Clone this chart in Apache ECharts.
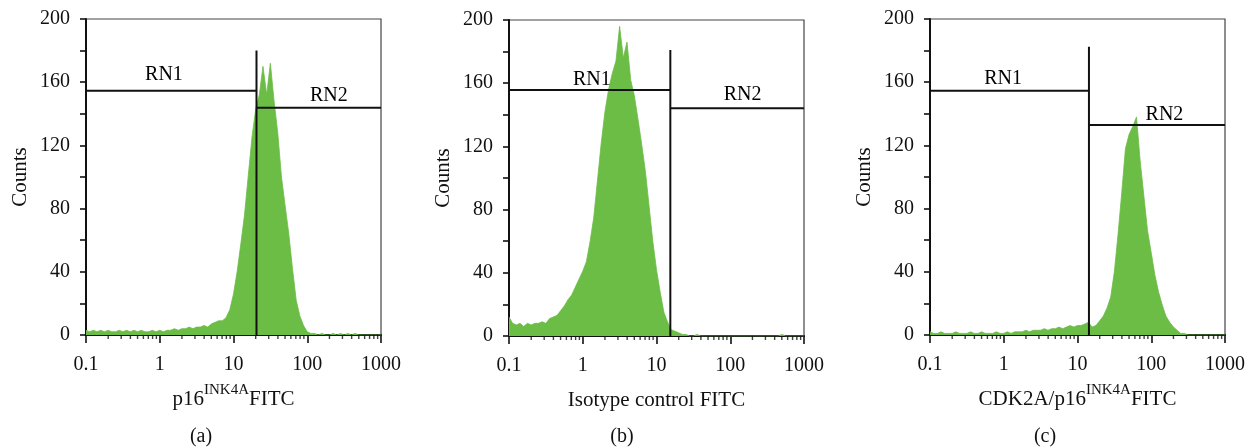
<!DOCTYPE html>
<html><head><meta charset="utf-8">
<script src="https://cdn.jsdelivr.net/npm/echarts@6/dist/echarts.min.js"></script>
<style>html,body{margin:0;padding:0;background:#fff}#c{width:1256px;height:448px}</style>
</head><body><div id="c"></div>
<script>
// Histogram bin centres (log-spaced, FITC intensity)
const bins = [0.1,0.112,0.126,0.141,0.158,0.178,0.2,0.224,0.251,0.282,0.316,0.355,0.398,0.447,0.501,0.562,0.631,0.708,0.794,0.891,
  1,1.12,1.26,1.41,1.58,1.78,2,2.24,2.51,2.82,3.16,3.55,3.98,4.47,5.01,5.62,6.31,7.08,7.94,8.91,
  10,11.2,12.6,14.1,15.8,17.8,20,22.4,25.1,28.2,31.6,35.5,39.8,44.7,50.1,56.2,63.1,70.8,79.4,89.1,
  100,112,126,141,158,178,200,224,251,282,316,355,398,447,501,562,631,708,794,891,1000];
// (a) p16INK4A FITC
const countsA = [3,2,3,2,3,2,3,2,2,3,2,3,2,3,2,3,2,2,3,2,
  3,2,3,3,4,3,4,4,5,4,5,5,6,5,7,8,9,9,11,16,
  26,40,58,76,100,125,143,152,170,152,172,148,128,100,82,64,42,22,12,6,
  2,1,1,0,1,0,0,1,0,1,0,1,0,1,0,0,0,0,0,0,0];
// (b) Isotype control FITC
const countsB = [12,8,7,8,6,8,7,8,8,9,8,11,12,13,16,19,23,26,31,36,
  41,47,60,75,98,122,142,156,166,174,196,176,186,162,152,137,121,104,82,60,
  42,28,15,9,4,3,2,1,1,0,0,1,0,0,0,0,0,0,0,0,
  0,0,0,0,0,0,0,0,0,0,0,0,0,0,1,0,0,0,0,0,0];
// (c) CDK2A/p16INK4A FITC
const countsC = [2,1,1,2,1,1,1,2,1,1,1,2,1,1,2,1,1,1,2,1,
  1,2,1,2,2,2,3,2,3,3,3,4,3,4,4,5,4,5,6,5,
  6,6,7,8,5,6,9,12,17,24,40,64,90,118,127,132,138,110,88,66,
  52,38,27,19,12,8,5,3,1,1,0,0,0,0,0,0,0,0,0,0,0];
const panelCounts = [countsA, countsB, countsC];

const minorTicks = [0.2,0.3,0.4,0.5,0.6,0.7,0.8,0.9,2,3,4,5,6,7,8,9,20,30,40,50,60,70,80,90,200,300,400,500,600,700,800,900];
const gateX = [20.5, 15.4, 14.3];
const gateTop = [180, 181, 182.5];
const rn1Level = [154.6, 155.7, 154.6];
const rn2Level = [143.8, 144.1, 132.9];
const rn1LabelPos = [[1.14, 164.4], [1.33, 162.5], [0.98, 162.5]];
const rn2LabelPos = [[196, 151.4], [147, 152.4], [151, 139.2]];
const xNames = ['{n|p16}{s|INK4A}{n|FITC}', '{n|Isotype control FITC}', '{n|CDK2A/p16}{s|INK4A}{n|FITC}'];
const panelTags = ['(a)', '(b)', '(c)'];

const FONT = 'Liberation Serif';
const INK = '#111';
const GREEN = '#6bbd46';
const grids = [
  {left: 86, top: 19, width: 295, height: 316},
  {left: 509, top: 20, width: 295, height: 316},
  {left: 930, top: 19, width: 295, height: 316}
];
const tagPos = [[201, 437], [622, 437], [1045, 437]];

const chart = echarts.init(document.getElementById('c'), null, {renderer: 'canvas'});
const option = {
  animation: false,
  backgroundColor: '#fff',
  grid: grids.map(g => Object.assign({show: true, borderColor: '#444', borderWidth: 1.2, backgroundColor: 'transparent'}, g)),
  xAxis: grids.map((g, k) => ({
    gridIndex: k, type: 'log', logBase: 10, min: 0.1, max: 1000,
    axisLine: {show: true, onZero: false, lineStyle: {color: '#111', width: 2}},
    axisTick: {show: true, length: 8, lineStyle: {color: '#111', width: 1.6}},
    splitLine: {show: false},
    axisLabel: {margin: 20, fontFamily: FONT, fontSize: 20, color: INK,
      formatter: v => String(+Number(v).toPrecision(3))},
    name: xNames[k], nameLocation: 'middle', nameGap: 48,
    nameTextStyle: {
      color: INK, fontFamily: FONT,
      rich: {
        n: {fontFamily: FONT, fontSize: 21, color: INK, lineHeight: 27, verticalAlign: 'bottom'},
        s: {fontFamily: FONT, fontSize: 15, color: INK, lineHeight: 27, verticalAlign: 'top'}
      }
    }
  })),
  yAxis: grids.map((g, k) => ({
    gridIndex: k, type: 'value', min: 0, max: 200, interval: 20,
    axisLine: {show: true, lineStyle: {color: '#111', width: 2}},
    axisTick: {show: true, length: 6, lineStyle: {color: '#111', width: 1.6}},
    splitLine: {show: false},
    axisLabel: {margin: 16, fontFamily: FONT, fontSize: 20, color: INK,
      formatter: v => (v % 40 === 0 ? String(v) : '')},
    name: 'Counts', nameLocation: 'middle', nameGap: 55,
    nameTextStyle: {fontFamily: FONT, fontSize: 21, color: INK}
  })),
  graphic: panelTags.map((t, k) => ({
    type: 'text', x: tagPos[k][0], y: tagPos[k][1],
    style: {text: t, fontFamily: FONT, fontSize: 20, fill: INK, textAlign: 'center', textVerticalAlign: 'middle'}
  })),
  series: []
};

panelCounts.forEach((counts, k) => {
  option.series.push({
    type: 'line', xAxisIndex: k, yAxisIndex: k, z: 2, silent: true,
    data: bins.map((x, i) => [x, counts[i]]),
    symbol: 'none', lineStyle: {color: GREEN, width: 0.8},
    areaStyle: {color: GREEN, opacity: 1}
  });
  const seg = (d) => ({
    type: 'line', xAxisIndex: k, yAxisIndex: k, z: 5, silent: true, symbol: 'none',
    lineStyle: {color: '#111', width: 2}, data: d
  });
  option.series.push(seg([[0.1, rn1Level[k]], [gateX[k], rn1Level[k]]]));
  option.series.push(seg([[gateX[k], 0], [gateX[k], gateTop[k]]]));
  option.series.push(seg([[gateX[k], rn2Level[k]], [1000, rn2Level[k]]]));
  option.series.push({
    type: 'scatter', xAxisIndex: k, yAxisIndex: k, z: 6, silent: true,
    symbol: 'circle', symbolSize: 0, itemStyle: {color: '#000', opacity: 1},
    label: {show: true, position: 'inside', fontFamily: FONT, fontSize: 20, color: '#000',
      opacity: 1, textBorderWidth: 0, formatter: p => p.data.name},
    data: [{name: 'RN1', value: rn1LabelPos[k]}, {name: 'RN2', value: rn2LabelPos[k]}]
  });
  option.series.push({
    type: 'scatter', xAxisIndex: k, yAxisIndex: k, z: 6, silent: true, clip: false,
    symbol: 'rect', symbolSize: [1.4, 4], symbolOffset: [0, 2],
    itemStyle: {color: '#111'},
    data: minorTicks.map(v => [v, 0])
  });
});
chart.setOption(option);
</script></body></html>
